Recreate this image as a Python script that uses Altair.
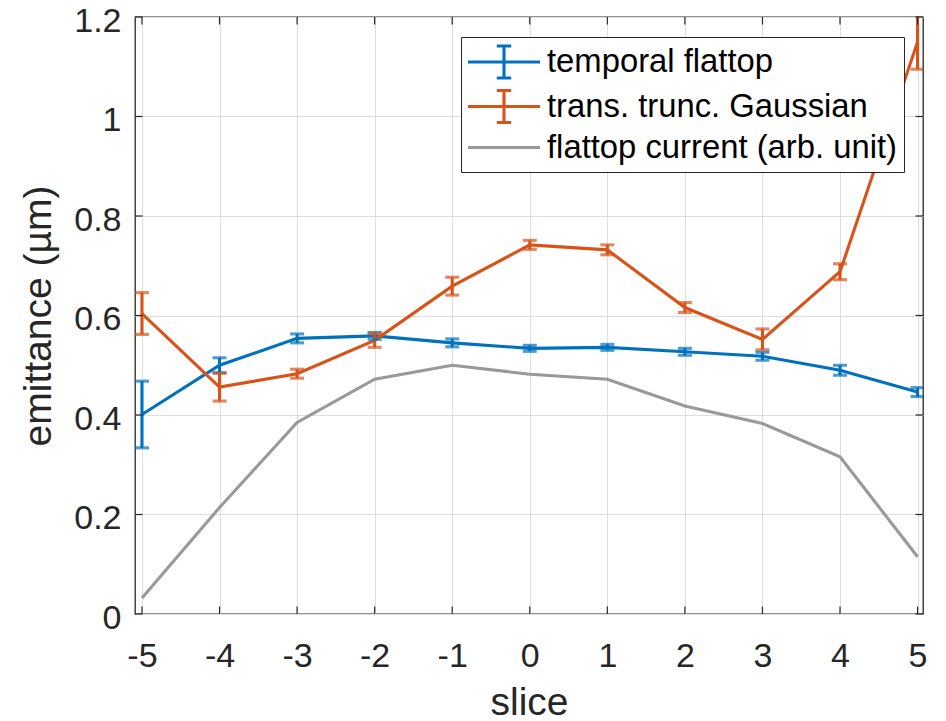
import altair as alt
import pandas as pd

# ---- data ----
slices = [-5, -4, -3, -2, -1, 0, 1, 2, 3, 4, 5]
flattop_emit = [0.401, 0.500, 0.554, 0.559, 0.545, 0.534, 0.536, 0.527, 0.518, 0.490, 0.446]
flattop_err = [0.067, 0.015, 0.009, 0.007, 0.008, 0.006, 0.006, 0.007, 0.008, 0.010, 0.009]
gauss_emit = [0.604, 0.456, 0.483, 0.550, 0.659, 0.742, 0.732, 0.616, 0.552, 0.688, 1.150]
gauss_err = [0.042, 0.028, 0.009, 0.014, 0.018, 0.009, 0.010, 0.010, 0.021, 0.016, 0.055]
current = [0.032, 0.214, 0.385, 0.472, 0.500, 0.482, 0.472, 0.418, 0.383, 0.316, 0.115]

series_names = ["temporal flattop", "trans. trunc. Gaussian", "flattop current (arb. unit)"]
series_colors = ["#0072BD", "#D95319", "#999999"]
x_ticks = [-5, -4, -3, -2, -1, 0, 1, 2, 3, 4, 5]
y_ticks = [0, 0.2, 0.4, 0.6, 0.8, 1.0, 1.2]

ERR_PATH = "M-2.25,0H2.25M0,-1V1M-0.45,-1H0.45M-0.45,1H0.45"
LINE_PATH = "M-2.25,0H2.25"
shape_paths = [ERR_PATH, ERR_PATH, LINE_PATH]

rows = []
for s, v, e in zip(slices, flattop_emit, flattop_err):
    rows.append(dict(slice=s, value=v, lo=v - e, hi=v + e, series=series_names[0]))
for s, v, e in zip(slices, gauss_emit, gauss_err):
    rows.append(dict(slice=s, value=v, lo=v - e, hi=v + e, series=series_names[1]))
for s, v in zip(slices, current):
    rows.append(dict(slice=s, value=v, lo=None, hi=None, series=series_names[2]))
df = pd.DataFrame(rows)
err_df = df[df.series != series_names[2]]
xt_df = pd.DataFrame({"t": x_ticks})
yt_df = pd.DataFrame({"t": y_ticks})

W, H = 788, 597
TICK = 7.5
FONT = "Liberation Sans"
AX = "#262626"
LW = 3.1

xscale = alt.Scale(domain=[-5.09, 5.07], nice=False, zero=False)
yscale = alt.Scale(domain=[0, 1.2], nice=False, zero=True)

xaxis = alt.Axis(values=x_ticks, title="slice", labelExpr="'' + datum.value",
                 labelPadding=25.5, titlePadding=10)
yaxis = alt.Axis(values=y_ticks, title="emittance (µm)", format="~g",
                 labelPadding=14, titlePadding=15, labelOffset=4)

cscale = alt.Scale(domain=series_names, range=series_colors)
legend = alt.Legend(title=None, orient="none", legendX=326, legendY=20,
                    direction="vertical", padding=7, fillColor="white",
                    strokeColor=AX, labelFont=FONT, labelFontSize=32.8,
                    labelColor="black", labelLimit=700, symbolSize=1024,
                    symbolStrokeWidth=LW, symbolOpacity=1, symbolOffset=18,
                    labelOffset=25, rowPadding=-1.5)

X = alt.X("slice:Q", scale=xscale, axis=xaxis)
Y = alt.Y("value:Q", scale=yscale, axis=yaxis)
C_nolegend = alt.Color("series:N", scale=cscale, legend=None)

legend_layer = alt.Chart(df).mark_point(opacity=0, filled=False).encode(
    x=X, y=Y,
    color=alt.Color("series:N", scale=cscale, legend=legend),
    shape=alt.Shape("series:N", scale=alt.Scale(domain=series_names, range=shape_paths), legend=legend))

lines = alt.Chart(df).mark_line(strokeWidth=LW, clip=True).encode(
    x="slice:Q", y="value:Q", color=C_nolegend, detail="series:N")

bars = alt.Chart(err_df).mark_rule(strokeWidth=LW, clip=True).encode(
    x="slice:Q", y="lo:Q", y2="hi:Q", color=C_nolegend)
caps_lo = alt.Chart(err_df).mark_tick(orient="horizontal", size=14, thickness=LW, clip=True).encode(
    x="slice:Q", y="lo:Q", color=C_nolegend)
caps_hi = alt.Chart(err_df).mark_tick(orient="horizontal", size=14, thickness=LW, clip=True).encode(
    x="slice:Q", y="hi:Q", color=C_nolegend)

# inward ticks (MATLAB style)
xt_bottom = alt.Chart(xt_df).mark_rule(color=AX, strokeWidth=1.2).encode(
    x="t:Q", y=alt.value(H), y2=alt.value(H - TICK))
xt_top = alt.Chart(xt_df).mark_rule(color=AX, strokeWidth=1.2).encode(
    x="t:Q", y=alt.value(0), y2=alt.value(TICK))
yt_left = alt.Chart(yt_df).mark_rule(color=AX, strokeWidth=1.2).encode(
    y="t:Q", x=alt.value(0), x2=alt.value(TICK))
yt_right = alt.Chart(yt_df).mark_rule(color=AX, strokeWidth=1.2).encode(
    y="t:Q", x=alt.value(W), x2=alt.value(W - TICK))

chart = alt.layer(
    legend_layer, lines, bars, caps_lo, caps_hi,
    xt_bottom, xt_top, yt_left, yt_right
).properties(
    width=W, height=H,
    autosize=alt.AutoSizeParams(type="none"),
    padding={"left": 135, "top": 17, "right": 946 - 135 - W, "bottom": 721 - 17 - H},
    background="white",
).configure_view(
    stroke=AX, strokeWidth=1.3
).configure_axis(
    labelFont=FONT, titleFont=FONT, labelFontSize=34, titleFontSize=39,
    labelColor=AX, titleColor=AX, titleFontWeight="normal",
    gridColor="#dedede", gridWidth=1, ticks=False, tickSize=0, domain=False,
)

chart.save("out.html", embed_options={"renderer": "svg", "actions": False})
